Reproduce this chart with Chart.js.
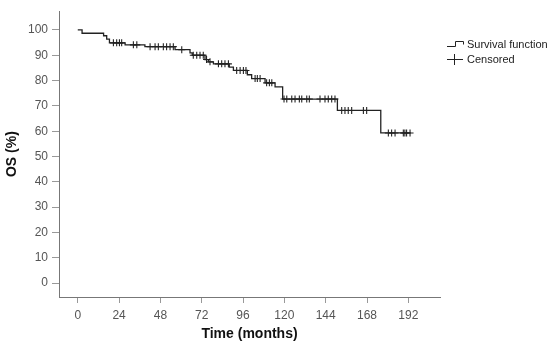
<!DOCTYPE html>
<html>
<head>
<meta charset="utf-8">
<script src="https://cdn.jsdelivr.net/npm/chart.js@4"></script>
<style>
  html, body { margin: 0; padding: 0; background: #fff; }
  #wrap { width: 550px; height: 355px; position: relative; }
</style>
</head>
<body>
<div id="wrap"><canvas id="km" width="550" height="355"></canvas></div>
<script>
// Kaplan-Meier step points (time in months, OS %)
var stepTimes  = [0, 2.5, 15, 16.8, 18.4, 27.5, 39, 56.5, 65.2, 66.5, 73.9, 75.9, 78.8, 88, 90.4, 98.5, 101, 108.8, 114.6, 119, 150.8, 176, 193.4];
var stepValues = [100, 98.7, 97.7, 96.4, 94.9, 94.1, 93.4, 92.2, 90.9, 90.0, 88.3, 87.4, 86.6, 85.3, 84.0, 82.3, 80.8, 79.1, 77.5, 72.7, 68.2, 59.3, 59.3];

// censored observations
var censorTimes  = [20.7, 22.6, 24.2, 25.5, 32.3, 34.3, 42, 44.9, 46.8, 49.7, 51.6, 53.6, 55.5, 60.4,
                    67.1, 69.1, 71, 72.9, 74.8, 76.8, 81.7, 83.6, 85.5, 87.5, 92.3, 94.3, 96.2, 97.7,
                    103, 104.3, 105.9, 109.7, 111.3, 112.7,
                    119.8, 121.4, 124.3, 126.2, 128.7, 130.1, 133, 134.5, 140.7, 143.6, 145.5, 147.5, 149.4,
                    153.3, 155.2, 157.1, 159.1, 165.9, 167.8,
                    180.4, 182.3, 184.3, 189.1, 190, 191, 193];
var censorValues = [94.9, 94.9, 94.9, 94.9, 94.1, 94.1, 93.4, 93.4, 93.4, 93.4, 93.4, 93.4, 93.4, 92.2,
                    90.0, 90.0, 90.0, 90.0, 88.3, 87.4, 86.6, 86.6, 86.6, 86.6, 84.0, 84.0, 84.0, 84.0,
                    80.8, 80.8, 80.8, 79.1, 79.1, 79.1,
                    72.7, 72.7, 72.7, 72.7, 72.7, 72.7, 72.7, 72.7, 72.7, 72.7, 72.7, 72.7, 72.7,
                    68.2, 68.2, 68.2, 68.2, 68.2, 68.2,
                    59.3, 59.3, 59.3, 59.3, 59.3, 59.3, 59.3];

var xTicks = [0, 24, 48, 72, 96, 120, 144, 168, 192];
var yTicks = [0, 10, 20, 30, 40, 50, 60, 70, 80, 90, 100];

var FONT = "'Liberation Sans', Arial, sans-serif";

var legendPlugin = {
    id: 'kmLegend',
    afterDraw: function(chart){
        var ctx = chart.ctx;
        ctx.save();
        ctx.strokeStyle = '#222';
        ctx.lineWidth = 1;
        ctx.beginPath();
        ctx.moveTo(447, 46.5);
        ctx.lineTo(455.5, 46.5);
        ctx.lineTo(455.5, 41.5);
        ctx.lineTo(463.5, 41.5);
        ctx.lineTo(463.5, 44.5);
        ctx.stroke();
        ctx.beginPath();
        ctx.moveTo(447, 59.5);
        ctx.lineTo(463, 59.5);
        ctx.moveTo(454.5, 54);
        ctx.lineTo(454.5, 65);
        ctx.stroke();
        ctx.fillStyle = '#222';
        ctx.font = '11px ' + FONT;
        ctx.textBaseline = 'middle';
        ctx.fillText('Survival function', 467, 45);
        ctx.fillText('Censored', 467, 59.5);
        ctx.restore();
    }
};

var ctx = document.getElementById('km').getContext('2d');
var myChart = new Chart(ctx, {
    type: 'scatter',
    data: {
        datasets: [{
            label: 'Survival function',
            data: stepTimes.map(function(t, i){ return {x: t, y: stepValues[i]}; }),
            showLine: true,
            stepped: 'before',
            borderColor: '#222',
            borderWidth: 1.3,
            pointRadius: 0,
            fill: false
        },
        {
            label: 'Censored',
            data: censorTimes.map(function(t, i){ return {x: t, y: censorValues[i]}; }),
            pointStyle: 'cross',
            pointRadius: 3.5,
            borderColor: '#222',
            borderWidth: 1.1,
            backgroundColor: '#222'
        }]
    },
    options: {
        responsive: false,
        animation: false,
        layout: { padding: { top: 3, right: 110, left: 0, bottom: 0 } },
        plugins: {
            legend: { display: false },
            tooltip: { enabled: false }
        },
        scales: {
            x: {
                type: 'linear',
                min: -10.9,
                max: 210.4,
                afterBuildTicks: function(scale){ scale.ticks = xTicks.map(function(v){ return {value: v}; }); },
                afterFit: function(scale){ scale.height = 58; },
                border: { display: true, color: '#777', width: 1 },
                grid: { drawOnChartArea: false, drawTicks: true, tickLength: 6, color: '#999' },
                ticks: { color: '#555', font: { family: FONT, size: 12 }, padding: 5, maxRotation: 0, autoSkip: false },
                title: { display: true, text: 'Time (months)', color: '#111',
                         font: { family: FONT, size: 14, weight: 'bold' }, padding: { top: 4, bottom: 12 } }
            },
            y: {
                type: 'linear',
                min: -5.49,
                max: 107.4,
                afterBuildTicks: function(scale){ scale.ticks = yTicks.map(function(v){ return {value: v}; }); },
                afterFit: function(scale){ scale.width = 59; },
                border: { display: true, color: '#777', width: 1 },
                grid: { drawOnChartArea: false, drawTicks: true, tickLength: 7, color: '#999' },
                ticks: { color: '#555', font: { family: FONT, size: 12 }, padding: 4, autoSkip: false },
                title: { display: true, text: 'OS (%)', color: '#111',
                         font: { family: FONT, size: 14, weight: 'bold' }, padding: 4 }
            }
        }
    },
    plugins: [legendPlugin]
});
</script>
</body>
</html>
